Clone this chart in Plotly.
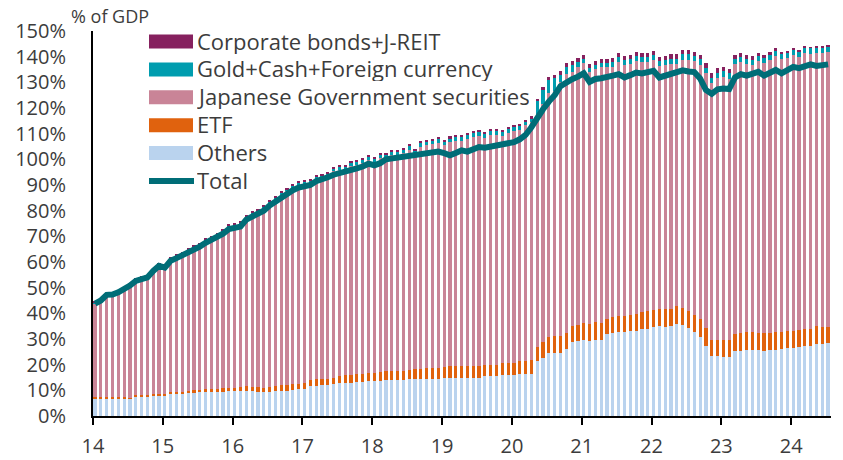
import plotly.graph_objects as go

# Year tick labels (one every 12 months, starting Jan 2014)
year_labels = ["14", "15", "16", "17", "18", "19", "20", "21", "22", "23", "24"]

# Monthly balance-sheet components, % of GDP (Jan 2014 - Jul 2024)
others = [
    7.0, 7.0, 6.8, 7.0, 7.0, 6.8, 6.7, 7.6, 7.6, 7.6, 7.8, 7.9,
    7.6, 8.5, 8.6, 8.4, 8.9, 9.0, 9.2, 9.3, 9.4, 9.5, 9.5, 9.6,
    9.6, 9.8, 9.9, 9.7, 9.4, 9.3, 9.5, 9.6, 9.8, 9.9, 10.2, 10.4,
    10.5, 11.5, 11.8, 11.9, 12.0, 12.3, 12.8, 13.0, 13.0, 13.2, 13.3, 13.6,
    13.6, 13.7, 14.0, 14.0, 14.1, 14.0, 14.3, 14.4, 14.3, 14.6, 14.6, 14.5,
    14.8, 14.9, 15.0, 14.9, 15.0, 15.0, 15.0, 15.4, 15.4, 15.4, 15.9, 15.9,
    15.9, 16.3, 16.3, 16.3, 21.4, 22.7, 24.7, 24.7, 24.7, 26.0, 28.8, 29.2,
    29.5, 29.2, 29.8, 29.8, 31.8, 32.2, 32.7, 32.7, 33.1, 33.1, 34.0, 34.0,
    34.8, 35.0, 34.8, 35.0, 35.9, 35.3, 34.1, 32.7, 30.7, 27.2, 23.4, 23.4,
    23.0, 23.0, 25.2, 25.2, 25.6, 25.6, 25.6, 25.2, 25.6, 25.8, 26.0, 26.5,
    26.5, 26.9, 27.2, 27.2, 27.9, 28.2, 28.3,
]

etf = [
    0.4, 0.4, 0.5, 0.4, 0.5, 0.5, 0.5, 0.6, 0.6, 0.6, 0.7, 0.8,
    0.9, 0.9, 0.9, 1.0, 1.0, 1.0, 1.1, 1.1, 1.2, 1.2, 1.3, 1.4,
    1.5, 1.5, 1.6, 1.7, 1.8, 1.8, 1.9, 2.0, 2.1, 2.1, 2.2, 2.2,
    2.3, 2.4, 2.5, 2.6, 2.6, 2.7, 2.8, 2.9, 3.0, 3.1, 3.1, 3.2,
    3.3, 3.4, 3.5, 3.6, 3.6, 3.7, 3.8, 3.9, 3.9, 4.0, 4.1, 4.2,
    4.3, 4.4, 4.4, 4.5, 4.5, 4.5, 4.5, 4.6, 4.6, 4.6, 4.6, 4.7,
    4.9, 5.1, 5.3, 5.4, 5.6, 6.1, 6.0, 6.4, 6.4, 6.4, 6.2, 6.3,
    6.8, 6.5, 6.9, 6.5, 6.1, 6.3, 6.2, 6.2, 6.3, 6.7, 6.7, 7.0,
    6.4, 6.7, 6.7, 6.7, 7.1, 6.8, 6.7, 6.8, 6.9, 6.9, 6.4, 6.4,
    6.8, 6.8, 6.6, 7.0, 7.1, 7.1, 6.8, 7.0, 6.8, 6.9, 6.9, 6.7,
    6.7, 6.8, 6.8, 6.8, 7.1, 6.6, 6.5,
]

jgs = [
    36.5, 37.7, 39.9, 40.0, 40.8, 42.1, 43.7, 44.5, 45.4, 45.9, 48.1, 50.0,
    49.7, 51.5, 52.5, 53.6, 54.6, 55.6, 56.3, 57.8, 58.6, 59.5, 61.0, 62.7,
    63.2, 63.4, 65.9, 67.2, 68.1, 69.8, 71.5, 72.8, 74.3, 75.5, 76.5, 77.3,
    77.5, 77.0, 78.1, 78.2, 78.8, 80.3, 80.3, 80.1, 81.5, 81.6, 82.3, 82.9,
    82.2, 83.3, 82.8, 83.9, 84.1, 84.7, 85.6, 83.7, 86.8, 86.8, 87.1, 87.7,
    86.3, 87.4, 87.6, 87.6, 88.4, 89.1, 89.5, 88.2, 89.5, 89.5, 88.6, 89.5,
    90.2, 90.0, 91.7, 92.7, 90.7, 92.9, 95.3, 95.5, 99.0, 100.7, 99.1, 100.4,
    101.2, 98.5, 98.6, 99.6, 98.2, 97.6, 99.2, 98.0, 97.9, 98.7, 97.4, 97.1,
    97.5, 94.6, 95.2, 95.5, 94.2, 96.7, 98.0, 98.7, 99.2, 99.4, 99.8, 101.8,
    102.4, 101.6, 105.3, 105.8, 104.5, 104.1, 105.8, 105.2, 106.3, 107.6, 106.1, 106.4,
    107.6, 106.2, 107.3, 107.2, 106.4, 106.6, 106.9,
]

gold_cash_fx = [
    0.3, 0.3, 0.3, 0.3, 0.3, 0.3, 0.3, 0.3, 0.3, 0.3, 0.3, 0.3,
    0.4, 0.4, 0.4, 0.4, 0.4, 0.4, 0.4, 0.4, 0.4, 0.4, 0.4, 0.4,
    0.5, 0.5, 0.5, 0.6, 0.6, 0.6, 0.7, 0.7, 0.8, 0.8, 0.9, 0.9,
    1.0, 1.0, 1.0, 1.1, 1.1, 1.1, 1.2, 1.2, 1.2, 1.3, 1.3, 1.3,
    1.3, 1.4, 1.4, 1.4, 1.4, 1.5, 1.5, 1.5, 1.5, 1.6, 1.6, 1.6,
    1.6, 1.6, 1.7, 1.7, 1.7, 1.7, 1.8, 1.8, 1.8, 1.8, 1.8, 1.8,
    1.8, 1.8, 1.6, 1.5, 5.0, 5.2, 5.0, 5.0, 2.8, 3.0, 2.6, 2.0,
    1.5, 1.4, 1.5, 1.6, 1.6, 1.7, 1.7, 1.8, 1.8, 1.8, 1.9, 1.9,
    1.9, 2.0, 2.0, 2.0, 2.0, 2.1, 2.1, 2.1, 2.2, 2.2, 2.2, 2.2,
    2.1, 2.1, 2.0, 2.0, 2.0, 2.0, 2.0, 2.0, 2.0, 2.0, 2.1, 2.1,
    2.1, 2.1, 2.2, 2.2, 2.2, 2.2, 2.3,
]

corp_jreit = [
    0.4, 0.4, 0.4, 0.4, 0.4, 0.4, 0.4, 0.4, 0.4, 0.4, 0.4, 0.4,
    0.4, 0.4, 0.4, 0.4, 0.4, 0.4, 0.4, 0.4, 0.4, 0.4, 0.4, 0.4,
    0.5, 0.5, 0.5, 0.5, 0.5, 0.5, 0.5, 0.5, 0.5, 0.5, 0.5, 0.5,
    0.6, 0.6, 0.6, 0.6, 0.6, 0.6, 0.6, 0.6, 0.6, 0.6, 0.6, 0.6,
    0.6, 0.6, 0.6, 0.6, 0.6, 0.6, 0.6, 0.6, 0.6, 0.6, 0.6, 0.6,
    0.6, 0.6, 0.6, 0.6, 0.6, 0.6, 0.6, 0.6, 0.6, 0.6, 0.6, 0.6,
    0.6, 0.6, 0.6, 0.8, 1.0, 1.1, 1.2, 1.3, 1.4, 1.4, 1.5, 1.5,
    1.5, 1.5, 1.5, 1.5, 1.5, 1.6, 1.6, 1.6, 1.6, 1.6, 1.6, 1.6,
    1.6, 1.6, 1.6, 1.7, 1.7, 1.7, 1.7, 1.7, 1.7, 1.7, 1.7, 1.7,
    1.7, 1.6, 1.6, 1.6, 1.5, 1.5, 1.4, 1.3, 1.2, 1.0, 0.8, 0.6,
    0.4, 0.3, 0.3, 0.2, 0.2, 0.2, 0.2,
]

total = [
    43.8, 45.0, 47.2, 47.3, 48.2, 49.3, 50.8, 52.6, 53.5, 54.0, 56.5, 58.5,
    57.8, 60.5, 61.5, 62.5, 64.0, 65.0, 66.0, 67.5, 68.5, 69.5, 71.0, 72.8,
    73.5, 73.8, 76.5, 77.8, 78.5, 80.0, 82.0, 83.5, 85.3, 86.5, 88.0, 89.0,
    89.5, 90.0, 91.5, 92.0, 93.0, 94.0, 94.5, 95.2, 96.0, 96.5, 97.2, 98.3,
    97.7, 98.5, 100.0, 100.3, 100.5, 101.0, 101.2, 101.5, 102.0, 102.2, 102.4, 103.0,
    102.4, 101.6, 102.5, 103.5, 103.0, 104.0, 104.8, 104.5, 105.0, 105.8, 106.0, 106.3,
    106.7, 107.8, 109.5, 112.5, 116.5, 119.5, 122.5, 125.0, 128.5, 130.0, 131.2, 132.2,
    133.5, 130.2, 131.3, 131.6, 131.9, 132.6, 133.2, 131.9, 132.8, 133.8, 133.5, 133.8,
    134.5, 131.9, 132.6, 133.2, 134.5, 134.7, 134.2, 134.0, 131.5, 127.0, 125.5, 127.3,
    127.6, 127.4, 131.9, 133.2, 132.6, 133.4, 134.1, 132.6, 133.8, 134.8, 133.5, 134.8,
    136.0, 135.5, 136.3, 137.0, 136.4, 136.6, 137.0,
]

n = len(total)
for s in (others, etf, jgs, gold_cash_fx, corp_jreit):
    assert len(s) == n

months = list(range(n))

C_OTHERS = "#BAD3EE"
C_ETF = "#E0620E"
C_JGS = "#C98497"
C_GOLD = "#009DAF"
C_CORP = "#86215F"
C_TOTAL = "#006D77"
TEXT = "#3C3C3C"
FONT = "Open Sans"

fig = go.Figure()
stack = [
    ("Others", others, C_OTHERS),
    ("ETF", etf, C_ETF),
    ("Japanese Government securities", jgs, C_JGS),
    ("Gold+Cash+Foreign currency", gold_cash_fx, C_GOLD),
    ("Corporate bonds+J-REIT", corp_jreit, C_CORP),
]
for name, vals, color in stack:
    fig.add_trace(go.Bar(x=months, y=vals, name=name,
                         marker=dict(color=color, line=dict(width=0)),
                         showlegend=False))
fig.add_trace(go.Scatter(x=months, y=total, name="Total", mode="lines",
                         line=dict(color=C_TOTAL, width=6),
                         showlegend=False))

# Canvas and plot-area geometry (pixels)
W, H = 843, 460
ML, MR, MT, MB = 93, 12, 31, 44
PW, PH = W - ML - MR, H - MT - MB


def px(xp):
    return (xp - ML) / PW


def py(yp):
    return (H - MB - yp) / PH


# Hand-drawn legend: wide swatches with labels to the right
legend_rows = [
    ("Corporate bonds+J-REIT", C_CORP, "bar"),
    ("Gold+Cash+Foreign currency", C_GOLD, "bar"),
    ("Japanese Government securities", C_JGS, "bar"),
    ("ETF", C_ETF, "bar"),
    ("Others", C_OTHERS, "bar"),
    ("Total", C_TOTAL, "line"),
]
shapes = []
annotations = []
row0, row_step = 41.5, 27.9
for i, (label, color, kind) in enumerate(legend_rows):
    yc = row0 + i * row_step
    if kind == "bar":
        shapes.append(dict(type="rect", xref="paper", yref="paper",
                           x0=px(149), x1=px(193), y0=py(yc + 7), y1=py(yc - 7),
                           fillcolor=color, line=dict(width=0)))
    else:
        shapes.append(dict(type="line", xref="paper", yref="paper",
                           x0=px(149), x1=px(194), y0=py(yc), y1=py(yc),
                           line=dict(color=color, width=6)))
    annotations.append(dict(text=label, xref="paper", yref="paper",
                            x=px(196), y=py(yc - 1.5), xanchor="left", yanchor="middle",
                            height=27, valign="middle", borderpad=0,
                            showarrow=False,
                            font=dict(family=FONT, size=22, color=TEXT)))

annotations.append(dict(text="% of GDP", xref="paper", yref="paper",
                        x=px(69), y=py(16), xanchor="left", yanchor="middle",
                        showarrow=False,
                        font=dict(family=FONT, size=18, color=TEXT)))

y_ticks = list(range(0, 151, 10))

fig.update_layout(
    width=W, height=H,
    margin=dict(l=ML, r=MR, t=MT, b=MB, pad=0, autoexpand=False),
    barmode="stack",
    bargap=0.45,
    plot_bgcolor="white",
    paper_bgcolor="white",
    font=dict(family=FONT, size=20, color=TEXT),
    shapes=shapes,
    annotations=annotations,
    showlegend=False,
    xaxis=dict(
        range=[-0.35, n - 0.5],
        tickvals=[12 * k - 0.35 for k in range(len(year_labels))],
        ticktext=year_labels,
        ticks="outside", ticklen=7, tickwidth=2, tickcolor="black",
        ticklabelstandoff=4,
        showline=True, linecolor="black", linewidth=2,
        showgrid=False, zeroline=False, automargin=False,
        tickfont=dict(family=FONT, size=20, color=TEXT),
    ),
    yaxis=dict(
        range=[0, 150],
        tickvals=y_ticks,
        ticktext=[f"{v}%" for v in y_ticks],
        ticks="", ticklabelstandoff=21,
        showline=True, linecolor="black", linewidth=2,
        showgrid=False, zeroline=False, automargin=False,
        tickfont=dict(family=FONT, size=20, color=TEXT),
    ),
)

fig.write_html("out.html")
